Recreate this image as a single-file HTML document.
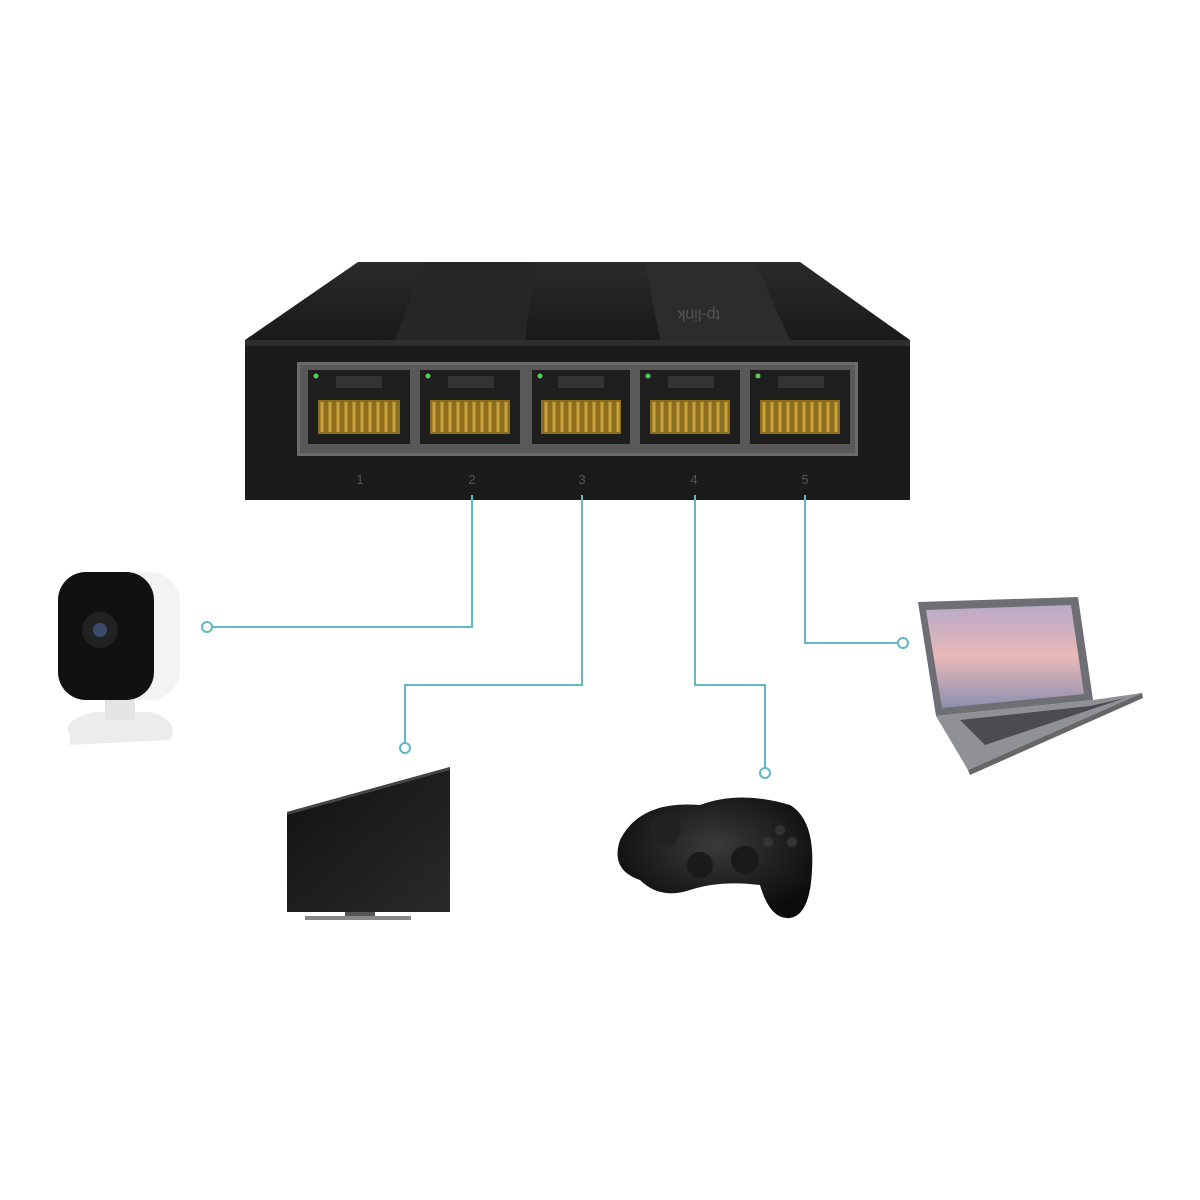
<!DOCTYPE html>
<html><head><meta charset="utf-8"><style>
html,body{margin:0;padding:0;background:#fff;width:1200px;height:1200px;overflow:hidden}
</style></head><body>
<svg width="1200" height="1200" viewBox="0 0 1200 1200" xmlns="http://www.w3.org/2000/svg">
<defs>
<linearGradient id="top" x1="0" y1="0" x2="0" y2="1"><stop offset="0" stop-color="#2a2a2a"/><stop offset="1" stop-color="#1a1a1a"/></linearGradient>
<linearGradient id="sky" x1="0" y1="0" x2="0" y2="1"><stop offset="0" stop-color="#b9a9c9"/><stop offset="0.5" stop-color="#e8b9b7"/><stop offset="1" stop-color="#8c8fb0"/></linearGradient>
<linearGradient id="tv" x1="0" y1="0" x2="1" y2="1"><stop offset="0" stop-color="#111"/><stop offset="1" stop-color="#2a2a2a"/></linearGradient>
<radialGradient id="pad" cx="0.5" cy="0.4" r="0.6"><stop offset="0" stop-color="#3a3a3a"/><stop offset="1" stop-color="#0c0c0c"/></radialGradient>
</defs>
<!-- switch top -->
<polygon points="358,262 800,262 910,340 245,340" fill="url(#top)"/>
<polygon points="425,262 535,262 525,340 395,340" fill="#262626"/>
<polygon points="645,262 755,262 790,340 660,340" fill="#2c2c2c"/>
<text x="720" y="322" fill="#555" font-family="Liberation Sans, sans-serif" font-size="16" transform="rotate(180 720 316)">tp-link</text>
<!-- front -->
<rect x="245" y="340" width="665" height="160" fill="#1b1b1b"/>
<rect x="245" y="340" width="665" height="6" fill="#2e2e2e"/>
<rect x="297" y="362" width="561" height="94" fill="#6b6b6b"/>
<rect x="300" y="365" width="555" height="88" fill="#595959"/>
<g id="ports">
<g transform="translate(308,370)"><rect width="102" height="74" fill="#1e1e1e"/><rect x="28" y="6" width="46" height="12" fill="#333"/><rect x="10" y="30" width="82" height="34" fill="#8a6d1e"/><path d="M14 32v30M22 32v30M30 32v30M38 32v30M46 32v30M54 32v30M62 32v30M70 32v30M78 32v30M86 32v30" stroke="#c9a23b" stroke-width="3"/><circle cx="8" cy="6" r="2.5" fill="#4fd14f"/></g>
<g transform="translate(420,370)"><rect width="100" height="74" fill="#1e1e1e"/><rect x="28" y="6" width="46" height="12" fill="#333"/><rect x="10" y="30" width="80" height="34" fill="#8a6d1e"/><path d="M14 32v30M22 32v30M30 32v30M38 32v30M46 32v30M54 32v30M62 32v30M70 32v30M78 32v30M86 32v30" stroke="#c9a23b" stroke-width="3"/><circle cx="8" cy="6" r="2.5" fill="#4fd14f"/></g>
<g transform="translate(532,370)"><rect width="98" height="74" fill="#1e1e1e"/><rect x="26" y="6" width="46" height="12" fill="#333"/><rect x="9" y="30" width="80" height="34" fill="#8a6d1e"/><path d="M14 32v30M22 32v30M30 32v30M38 32v30M46 32v30M54 32v30M62 32v30M70 32v30M78 32v30M86 32v30" stroke="#c9a23b" stroke-width="3"/><circle cx="8" cy="6" r="2.5" fill="#4fd14f"/></g>
<g transform="translate(640,370)"><rect width="100" height="74" fill="#1e1e1e"/><rect x="28" y="6" width="46" height="12" fill="#333"/><rect x="10" y="30" width="80" height="34" fill="#8a6d1e"/><path d="M14 32v30M22 32v30M30 32v30M38 32v30M46 32v30M54 32v30M62 32v30M70 32v30M78 32v30M86 32v30" stroke="#c9a23b" stroke-width="3"/><circle cx="8" cy="6" r="2.5" fill="#4fd14f"/></g>
<g transform="translate(750,370)"><rect width="100" height="74" fill="#1e1e1e"/><rect x="28" y="6" width="46" height="12" fill="#333"/><rect x="10" y="30" width="80" height="34" fill="#8a6d1e"/><path d="M14 32v30M22 32v30M30 32v30M38 32v30M46 32v30M54 32v30M62 32v30M70 32v30M78 32v30M86 32v30" stroke="#c9a23b" stroke-width="3"/><circle cx="8" cy="6" r="2.5" fill="#4fd14f"/></g>
</g>
<g font-family="Liberation Sans, sans-serif" font-size="13" fill="#555" text-anchor="middle">
<text x="360" y="484">1</text><text x="472" y="484">2</text><text x="582" y="484">3</text><text x="694" y="484">4</text><text x="805" y="484">5</text>
</g>
<!-- connectors -->
<g fill="none" stroke="#5fb8c4" stroke-width="2">
<polyline points="472,495 472,627 212,627"/>
<polyline points="582,495 582,685 405,685 405,743"/>
<polyline points="695,495 695,685 765,685 765,768"/>
<polyline points="805,495 805,643 898,643"/>
<circle cx="207" cy="627" r="5" fill="#fff"/>
<circle cx="405" cy="748" r="5" fill="#fff"/>
<circle cx="765" cy="773" r="5" fill="#fff"/>
<circle cx="903" cy="643" r="5" fill="#fff"/>
</g>
<!-- camera -->
<path d="M70 735 Q60 720 95 712 L150 712 Q180 720 170 740 L70 745 Z" fill="#ececec"/>
<rect x="105" y="690" width="30" height="30" fill="#e4e4e4"/>
<rect x="58" y="572" width="122" height="128" rx="30" fill="#f3f3f3"/>
<rect x="58" y="572" width="96" height="128" rx="28" fill="#111"/>
<circle cx="100" cy="630" r="18" fill="#222"/><circle cx="100" cy="630" r="7" fill="#3a4a6a"/>
<!-- TV -->
<polygon points="287,812 450,767 450,912 287,912" fill="url(#tv)"/>
<polygon points="287,812 450,767 450,770 287,815" fill="#444"/>
<rect x="345" y="912" width="30" height="4" fill="#555"/>
<rect x="305" y="916" width="106" height="4" fill="#888"/>
<!-- controller -->
<path d="M620 840 Q640 800 700 805 Q740 790 790 805 Q815 820 812 870 Q810 915 790 918 Q770 920 760 885 Q720 880 690 890 Q660 900 640 880 Q610 870 620 840 Z" fill="url(#pad)"/>
<circle cx="665" cy="830" r="16" fill="#222"/>
<circle cx="745" cy="860" r="14" fill="#1a1a1a"/><circle cx="700" cy="865" r="13" fill="#1a1a1a"/>
<circle cx="780" cy="830" r="5" fill="#333"/><circle cx="792" cy="842" r="5" fill="#333"/><circle cx="768" cy="842" r="5" fill="#333"/>
<!-- laptop -->
<polygon points="918,602 1078,597 1093,700 936,716" fill="#6d6f75"/>
<polygon points="926,610 1071,605 1084,694 942,708" fill="url(#sky)"/>
<polygon points="936,716 1093,700 1142,693 968,770" fill="#8f9196"/>
<polygon points="960,720 1090,706 1125,698 985,745" fill="#4a4c52"/>
<polygon points="968,770 1142,693 1143,698 970,775" fill="#666"/>
</svg>
</body></html>
